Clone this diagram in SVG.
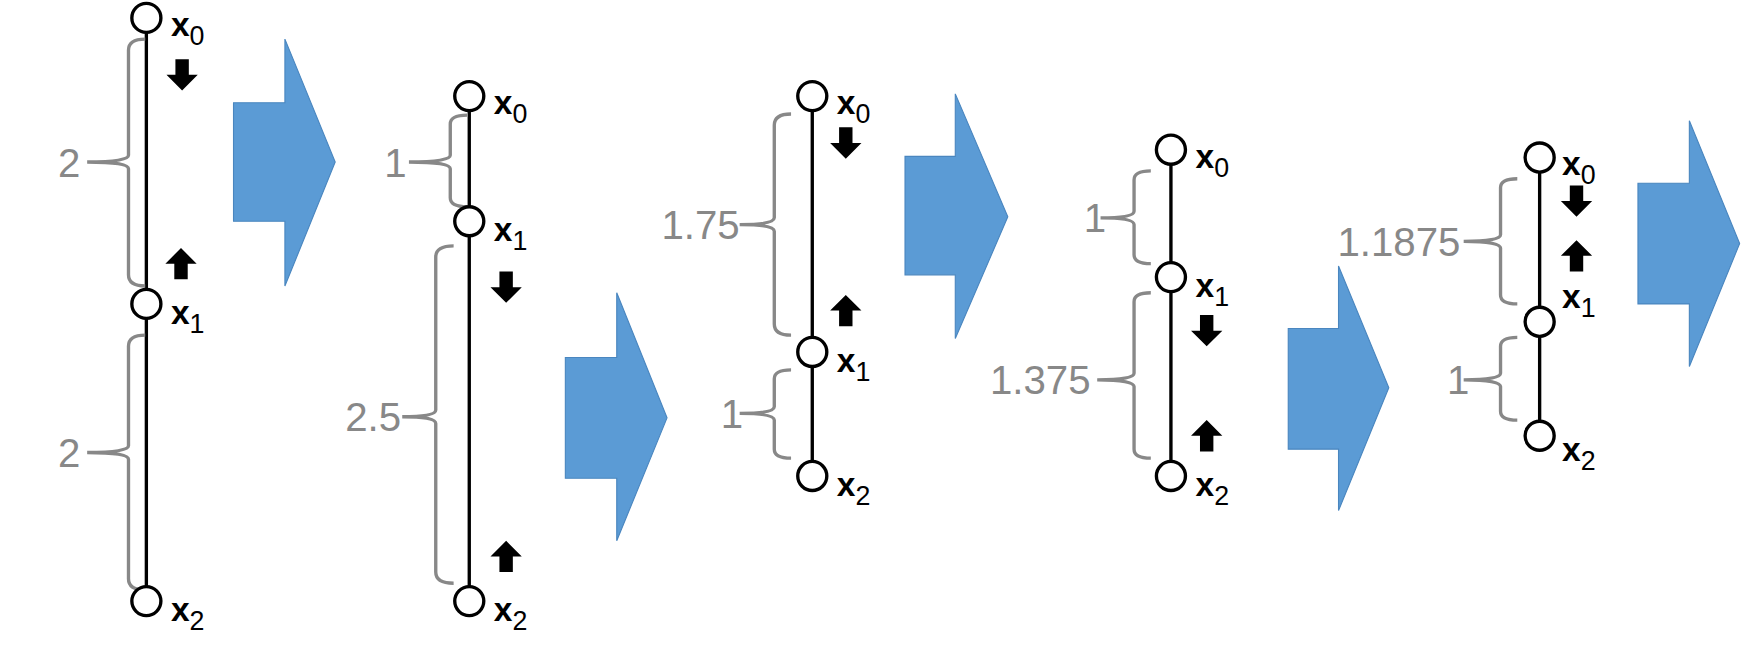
<svg xmlns="http://www.w3.org/2000/svg" xmlns:xlink="http://www.w3.org/1999/xlink" width="1752" height="652" viewBox="0 0 1752 652">
<style>
.ln{stroke:#000;stroke-width:3}
.nd{fill:#fff;stroke:#000;stroke-width:3}
.br{fill:none;stroke:#888;stroke-width:3}
.lb{font-family:"Liberation Sans",Arial,sans-serif;font-weight:bold;font-size:30px;fill:#000}
.sb{font-weight:normal;font-size:24px}
.num{font-family:"Liberation Sans",Arial,sans-serif;font-size:36px;fill:#888}
.big{fill:#5b9bd5;stroke:#4a86bf;stroke-width:1}
</style>
<defs>
<path id="dn" d="M-6,-16 h12 v14 h8 l-14,14 l-14,-14 h8 z" fill="#000"/>
</defs>
<rect width="1752" height="652" fill="#fff"/>
<g transform="scale(1.1173)">
<g id="connectors">
<line class="ln" x1="131" y1="16" x2="131" y2="538"/>
<line class="ln" x1="420" y1="86" x2="420" y2="538"/>
<line class="ln" x1="727" y1="86" x2="727" y2="426"/>
<line class="ln" x1="1048" y1="134" x2="1048" y2="426"/>
<line class="ln" x1="1378" y1="141" x2="1378" y2="390"/>
</g>
<g id="brackets">
<path class="br" d="M130,35 Q115,35 115,45 L115,139 Q115,145 78,145 Q115,145 115,151 L115,246 Q115,256 130,256"/>
<path class="br" d="M130,300 Q115,300 115,310 L115,399 Q115,405 78,405 Q115,405 115,411 L115,518 Q115,528 130,528"/>
<path class="br" d="M418,103 Q403,103 403,111 L403,139 Q403,145 366,145 Q403,145 403,151 L403,177 Q403,185 418,185"/>
<path class="br" d="M406,220 Q390,220 390,230 L390,367 Q390,373 360,373 Q390,373 390,379 L390,512 Q390,522 406,522"/>
<path class="br" d="M708,102 Q693,102 693,112 L693,195 Q693,201 662,201 Q693,201 693,207 L693,290 Q693,300 708,300"/>
<path class="br" d="M708,331 Q693,331 693,339 L693,364 Q693,370 662,370 Q693,370 693,376 L693,402 Q693,410 708,410"/>
<path class="br" d="M1030,153 Q1015,153 1015,161 L1015,189 Q1015,195 985,195 Q1015,195 1015,201 L1015,228 Q1015,236 1030,236"/>
<path class="br" d="M1030,262 Q1015,262 1015,270 L1015,334 Q1015,340 982,340 Q1015,340 1015,346 L1015,402 Q1015,410 1030,410"/>
<path class="br" d="M1358,160 Q1343,160 1343,168 L1343,210 Q1343,216 1310,216 Q1343,216 1343,222 L1343,264 Q1343,272 1358,272"/>
<path class="br" d="M1358,302 Q1343,302 1343,310 L1343,334 Q1343,340 1310,340 Q1343,340 1343,346 L1343,368 Q1343,376 1358,376"/>
</g>
<g id="numbers">
<text class="num" x="52" y="158">2</text>
<text class="num" x="52" y="418">2</text>
<text class="num" x="344" y="158">1</text>
<text class="num" x="309" y="386">2.5</text>
<text class="num" x="592" y="214">1.75</text>
<text class="num" x="645" y="383">1</text>
<text class="num" x="970" y="208">1</text>
<text class="num" x="886" y="353">1.375</text>
<text class="num" x="1197" y="229">1.1875</text>
<text class="num" x="1295" y="353">1</text>
</g>
<g id="moves">
<use href="#dn" x="163" y="69"/>
<use href="#dn" transform="translate(162,234) rotate(180)"/>
<use href="#dn" x="453" y="259"/>
<use href="#dn" transform="translate(453,496) rotate(180)"/>
<use href="#dn" x="757" y="130"/>
<use href="#dn" transform="translate(757,276) rotate(180)"/>
<use href="#dn" x="1080" y="298"/>
<use href="#dn" transform="translate(1080,388) rotate(180)"/>
<use href="#dn" x="1411" y="182"/>
<use href="#dn" transform="translate(1411,227) rotate(180)"/>
</g>
<g id="step-arrows">
<path class="big" d="M209,92 H255 V35 L300,145 L255,256 V198 H209 Z"/>
<path class="big" d="M506,320 H552 V262 L597,374 L552,484 V428 H506 Z"/>
<path class="big" d="M810,140 H855 V84 L902,194 L855,303 V246 H810 Z"/>
<path class="big" d="M1153,294 H1198 V238 L1243,347 L1198,457 V402 H1153 Z"/>
<path class="big" d="M1466,164 H1512 V108 L1557,218 L1512,328 V272 H1466 Z"/>
</g>
<g id="c1-x0"><circle class="nd" cx="131" cy="16" r="13"/><text class="lb" x="153" y="32">x<tspan class="sb" dy="8">0</tspan></text></g>
<g id="c1-x1"><circle class="nd" cx="131" cy="272" r="13"/><text class="lb" x="153" y="290">x<tspan class="sb" dy="8">1</tspan></text></g>
<g id="c1-x2"><circle class="nd" cx="131" cy="538" r="13"/><text class="lb" x="153" y="556">x<tspan class="sb" dy="8">2</tspan></text></g>
<g id="c2-x0"><circle class="nd" cx="420" cy="86" r="13"/><text class="lb" x="442" y="102">x<tspan class="sb" dy="8">0</tspan></text></g>
<g id="c2-x1"><circle class="nd" cx="420" cy="198" r="13"/><text class="lb" x="442" y="216">x<tspan class="sb" dy="8">1</tspan></text></g>
<g id="c2-x2"><circle class="nd" cx="420" cy="538" r="13"/><text class="lb" x="442" y="556">x<tspan class="sb" dy="8">2</tspan></text></g>
<g id="c3-x0"><circle class="nd" cx="727" cy="86" r="13"/><text class="lb" x="749" y="102">x<tspan class="sb" dy="8">0</tspan></text></g>
<g id="c3-x1"><circle class="nd" cx="727" cy="315" r="13"/><text class="lb" x="749" y="333">x<tspan class="sb" dy="8">1</tspan></text></g>
<g id="c3-x2"><circle class="nd" cx="727" cy="426" r="13"/><text class="lb" x="749" y="444">x<tspan class="sb" dy="8">2</tspan></text></g>
<g id="c4-x0"><circle class="nd" cx="1048" cy="134" r="13"/><text class="lb" x="1070" y="150">x<tspan class="sb" dy="8">0</tspan></text></g>
<g id="c4-x1"><circle class="nd" cx="1048" cy="248" r="13"/><text class="lb" x="1070" y="266">x<tspan class="sb" dy="8">1</tspan></text></g>
<g id="c4-x2"><circle class="nd" cx="1048" cy="426" r="13"/><text class="lb" x="1070" y="444">x<tspan class="sb" dy="8">2</tspan></text></g>
<g id="c5-x0"><circle class="nd" cx="1378" cy="141" r="13"/><text class="lb" x="1398" y="157">x<tspan class="sb" dy="8">0</tspan></text></g>
<g id="c5-x1"><circle class="nd" cx="1378" cy="288" r="13"/><text class="lb" x="1398" y="276">x<tspan class="sb" dy="8">1</tspan></text></g>
<g id="c5-x2"><circle class="nd" cx="1378" cy="390" r="13"/><text class="lb" x="1398" y="413">x<tspan class="sb" dy="8">2</tspan></text></g>
</g>
</svg>
